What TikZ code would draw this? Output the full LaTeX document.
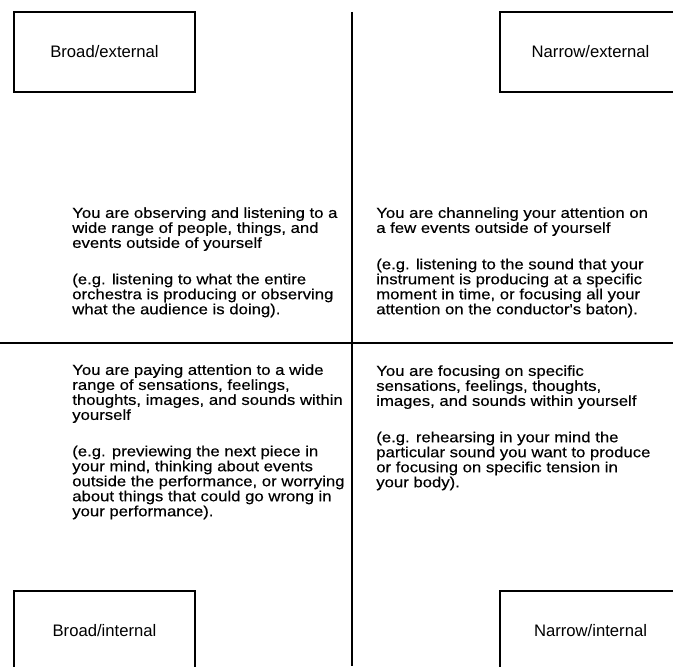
\documentclass[tikz,border=0pt]{standalone}
\usepackage{fontspec}
\setmainfont{Liberation Sans}
\newfontfamily\bodyfont[FakeStretch=1.14,FakeBold=0.3]{Liberation Sans}
\tikzset{
  quadbox/.style={draw,line width=1.1pt,minimum width=135.75pt,minimum height=60pt,inner sep=0pt,font=\fontsize{12.5}{14}\selectfont},
  quadtext/.style={anchor=north west,inner sep=0pt,align=left,font=\bodyfont\fontsize{11}{11.25}\selectfont},
}
\begin{document}
\begin{tikzpicture}[x=0.75pt,y=-0.75pt]
  \clip (0,0) rectangle (673,666);
  \fill [white] (0,0) rectangle (673,666);
  % dividers
  \draw [line width=1.1pt] (352,12) -- (352,666);
  \draw [line width=1.1pt] (0,343) -- (673,343);

  % corner boxes
  \node [quadbox] (bext) at (104.5,52) {Broad/external};
  \node [quadbox] (next) at (590.5,52) {Narrow/external};
  \node [quadbox] (bint) at (104.5,631) {Broad/internal};
  \node [quadbox] (nint) at (590.5,631) {Narrow/internal};

  % quadrant texts
  \node [quadtext] (tbext) at (72,207) {You are observing and listening to a\\
    wide range of people, things, and\\
    events outside of yourself\\[16pt]
    (e.g. listening to what the entire\\
    orchestra is producing or observing\\
    what the audience is doing).};
  \node [quadtext] (tnext) at (376,207) {You are channeling your attention on\\
    a few events outside of yourself\\[16pt]
    (e.g. listening to the sound that your\\
    instrument is producing at a specific\\
    moment in time, or focusing all your\\
    attention on the conductor's baton).};
  \node [quadtext] (tbint) at (72,364) {You are paying attention to a wide\\
    range of sensations, feelings,\\
    thoughts, images, and sounds within\\
    yourself\\[16pt]
    (e.g. previewing the next piece in\\
    your mind, thinking about events\\
    outside the performance, or worrying\\
    about things that could go wrong in\\
    your performance).};
  \node [quadtext] (tnint) at (376,365) {You are focusing on specific\\
    sensations, feelings, thoughts,\\
    images, and sounds within yourself\\[16pt]
    (e.g. rehearsing in your mind the\\
    particular sound you want to produce\\
    or focusing on specific tension in\\
    your body).};
\end{tikzpicture}
\end{document}
